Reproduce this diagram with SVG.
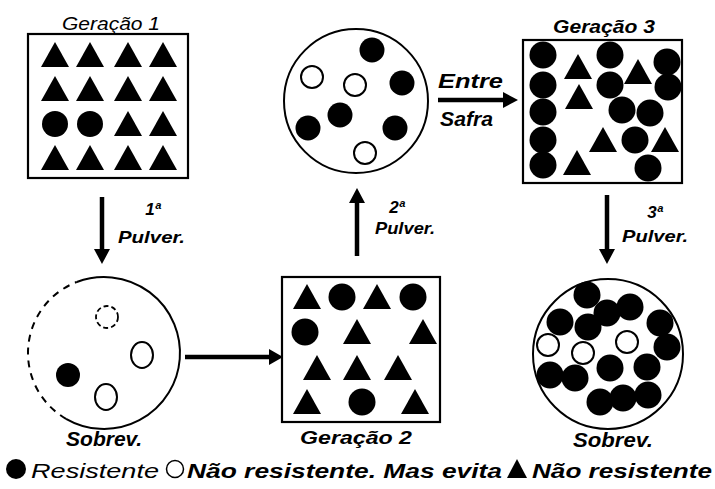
<svg xmlns="http://www.w3.org/2000/svg" xmlns:xlink="http://www.w3.org/1999/xlink" width="715" height="489" viewBox="0 0 715 489">
<style>
.box{fill:none;stroke:#000;stroke-width:2.2}
.ring{fill:none;stroke:#000;stroke-width:2}
.dot{fill:#000}
.hol{fill:#fff;stroke:#000;stroke-width:2}
.t{font-family:"Liberation Sans",Arial,sans-serif;font-style:italic;font-weight:bold;fill:#000}
.r{font-weight:normal}
.shaft{stroke:#000;stroke-width:4.5;fill:none}
.head{fill:#000}
</style>
<defs>
<path id="tri" d="M0,-13 L14,12 L-14,12 Z" fill="#000"/>
<circle id="fc" r="12.5" fill="#000"/>
<circle id="hc" r="11" fill="#fff" stroke="#000" stroke-width="2"/>
<circle id="bc" r="13.5" fill="#000"/>
</defs>
<rect width="715" height="489" fill="#fff"/>

<g id="gen1">
<text class="t r" x="111" y="30" font-size="19" text-anchor="middle" textLength="98" lengthAdjust="spacingAndGlyphs">Geração 1</text>
<rect class="box" x="28" y="34" width="160" height="144"/>
<use xlink:href="#tri" x="55" y="55"/><use xlink:href="#tri" x="90" y="55"/><use xlink:href="#tri" x="128" y="55"/><use xlink:href="#tri" x="163" y="55"/>
<use xlink:href="#tri" x="55" y="89"/><use xlink:href="#tri" x="90" y="89"/><use xlink:href="#tri" x="128" y="89"/><use xlink:href="#tri" x="163" y="89"/>
<circle class="dot" cx="55" cy="124" r="13"/><circle class="dot" cx="90" cy="124" r="13"/><use xlink:href="#tri" x="128" y="124"/><use xlink:href="#tri" x="163" y="124"/>
<use xlink:href="#tri" x="55" y="158"/><use xlink:href="#tri" x="90" y="158"/><use xlink:href="#tri" x="128" y="158"/><use xlink:href="#tri" x="163" y="158"/>
</g>

<g id="pop-top">
<circle class="ring" cx="356" cy="101" r="72"/>
<use xlink:href="#fc" x="372" y="50"/>
<use xlink:href="#hc" x="312" y="77"/>
<use xlink:href="#hc" x="355" y="85"/>
<use xlink:href="#fc" x="402" y="83"/>
<use xlink:href="#fc" x="340" y="115"/>
<use xlink:href="#fc" x="308" y="128"/>
<use xlink:href="#fc" x="395" y="128"/>
<use xlink:href="#hc" x="365" y="153"/>
</g>

<g id="gen3">
<text class="t" x="604" y="33" font-size="19" text-anchor="middle" textLength="102" lengthAdjust="spacingAndGlyphs">Geração 3</text>
<rect class="box" x="523" y="40" width="159" height="143"/>
<use xlink:href="#bc" x="543" y="55"/><use xlink:href="#bc" x="610" y="55"/><use xlink:href="#bc" x="667" y="62"/>
<use xlink:href="#bc" x="543" y="85"/><use xlink:href="#bc" x="610" y="85"/><use xlink:href="#bc" x="668" y="87"/>
<use xlink:href="#bc" x="543" y="112"/><use xlink:href="#bc" x="622" y="110"/><use xlink:href="#bc" x="650" y="113"/>
<use xlink:href="#bc" x="543" y="140"/><use xlink:href="#bc" x="635" y="140"/>
<use xlink:href="#bc" x="543" y="165"/><use xlink:href="#bc" x="648" y="168"/>
<use xlink:href="#tri" x="578" y="67"/><use xlink:href="#tri" x="638" y="72"/><use xlink:href="#tri" x="579" y="97"/>
<use xlink:href="#tri" x="603" y="140"/><use xlink:href="#tri" x="665" y="140"/><use xlink:href="#tri" x="577" y="163"/>
</g>

<g id="sobrev1">
<path class="ring" d="M76.8,282 A76,76 0 1 1 66,418.8"/>
<path class="ring" stroke-dasharray="7,6" stroke-width="1.6" d="M66,418.8 A76,76 0 0 1 76.8,282"/>
<circle cx="107" cy="317" r="11" fill="none" stroke="#000" stroke-width="1.8" stroke-dasharray="5,3"/>
<ellipse class="hol" cx="142" cy="355" rx="11" ry="13"/>
<circle class="dot" cx="68" cy="375" r="12"/>
<ellipse class="hol" cx="106" cy="397" rx="11" ry="13"/>
<text class="t" x="66" y="446" font-size="21" textLength="76" lengthAdjust="spacingAndGlyphs">Sobrev.</text>
</g>

<g id="gen2">
<rect class="box" x="282" y="277" width="158" height="145"/>
<use xlink:href="#tri" x="307" y="297"/><use xlink:href="#bc" x="342" y="297"/><use xlink:href="#tri" x="377" y="297"/><use xlink:href="#bc" x="413" y="297"/>
<use xlink:href="#bc" x="305" y="332"/><use xlink:href="#tri" x="357" y="332"/><use xlink:href="#tri" x="423" y="332"/>
<use xlink:href="#tri" x="317" y="368"/><use xlink:href="#tri" x="357" y="368"/><use xlink:href="#tri" x="398" y="368"/>
<use xlink:href="#tri" x="307" y="402"/><use xlink:href="#bc" x="362" y="402"/><use xlink:href="#tri" x="415" y="402"/>
<text class="t" x="356" y="444" font-size="19" text-anchor="middle" textLength="112" lengthAdjust="spacingAndGlyphs">Geração 2</text>
</g>

<g id="sobrev3">
<circle class="ring" cx="608" cy="354" r="75"/>
<use xlink:href="#bc" x="587" y="295"/><use xlink:href="#bc" x="560" y="322"/><use xlink:href="#bc" x="607" y="313"/>
<use xlink:href="#bc" x="630" y="307"/><use xlink:href="#bc" x="588" y="327"/><use xlink:href="#bc" x="660" y="323"/>
<use xlink:href="#bc" x="667" y="347"/><use xlink:href="#bc" x="610" y="368"/><use xlink:href="#bc" x="647" y="367"/>
<use xlink:href="#bc" x="550" y="375"/><use xlink:href="#bc" x="575" y="378"/><use xlink:href="#bc" x="600" y="402"/>
<use xlink:href="#bc" x="623" y="398"/><use xlink:href="#bc" x="648" y="395"/>
<use xlink:href="#hc" x="548" y="345"/><use xlink:href="#hc" x="583" y="353"/><use xlink:href="#hc" x="627" y="342"/>
<text class="t" x="573" y="447" font-size="21" textLength="80" lengthAdjust="spacingAndGlyphs">Sobrev.</text>
</g>

<g id="connectors">
<line class="shaft" x1="102" y1="197" x2="102" y2="252"/>
<path class="head" d="M94,249 L110,249 L102,264 Z"/>
<text class="t" x="153" y="215" font-size="17" text-anchor="middle">1ª</text>
<text class="t" x="118" y="243" font-size="17" textLength="67" lengthAdjust="spacingAndGlyphs">Pulver.</text>

<line class="shaft" x1="185" y1="357" x2="272" y2="357"/>
<path class="head" d="M269,349 L269,365 L283,357 Z"/>

<line class="shaft" x1="357" y1="256" x2="357" y2="200"/>
<path class="head" d="M349,203 L365,203 L357,188 Z"/>
<text class="t" x="397" y="213" font-size="17" text-anchor="middle">2ª</text>
<text class="t" x="375" y="234" font-size="17" textLength="60" lengthAdjust="spacingAndGlyphs">Pulver.</text>

<line class="shaft" x1="438" y1="100" x2="506" y2="100"/>
<path class="head" d="M503,92 L503,108 L518,100 Z"/>
<text class="t" x="438" y="88" font-size="21" textLength="65" lengthAdjust="spacingAndGlyphs">Entre</text>
<text class="t" x="440" y="126" font-size="21" textLength="53" lengthAdjust="spacingAndGlyphs">Safra</text>

<line class="shaft" x1="607" y1="195" x2="607" y2="252"/>
<path class="head" d="M599,249 L615,249 L607,264 Z"/>
<text class="t" x="655" y="218" font-size="17" text-anchor="middle">3ª</text>
<text class="t" x="622" y="242" font-size="17" textLength="66" lengthAdjust="spacingAndGlyphs">Pulver.</text>
</g>

<g id="legend">
<circle class="dot" cx="16" cy="469" r="10"/>
<text class="t r" x="31" y="478" font-size="21" textLength="128" lengthAdjust="spacingAndGlyphs">Resistente</text>
<circle cx="175" cy="469" r="8.5" fill="#fff" stroke="#000" stroke-width="1.5"/>
<text class="t" x="187" y="478" font-size="21" textLength="315" lengthAdjust="spacingAndGlyphs">Não resistente. Mas evita</text>
<path d="M517,459 L527,478 L507,478 Z" fill="#000"/>
<text class="t" x="532" y="478" font-size="21" textLength="180" lengthAdjust="spacingAndGlyphs">Não resistente</text>
</g>
</svg>
